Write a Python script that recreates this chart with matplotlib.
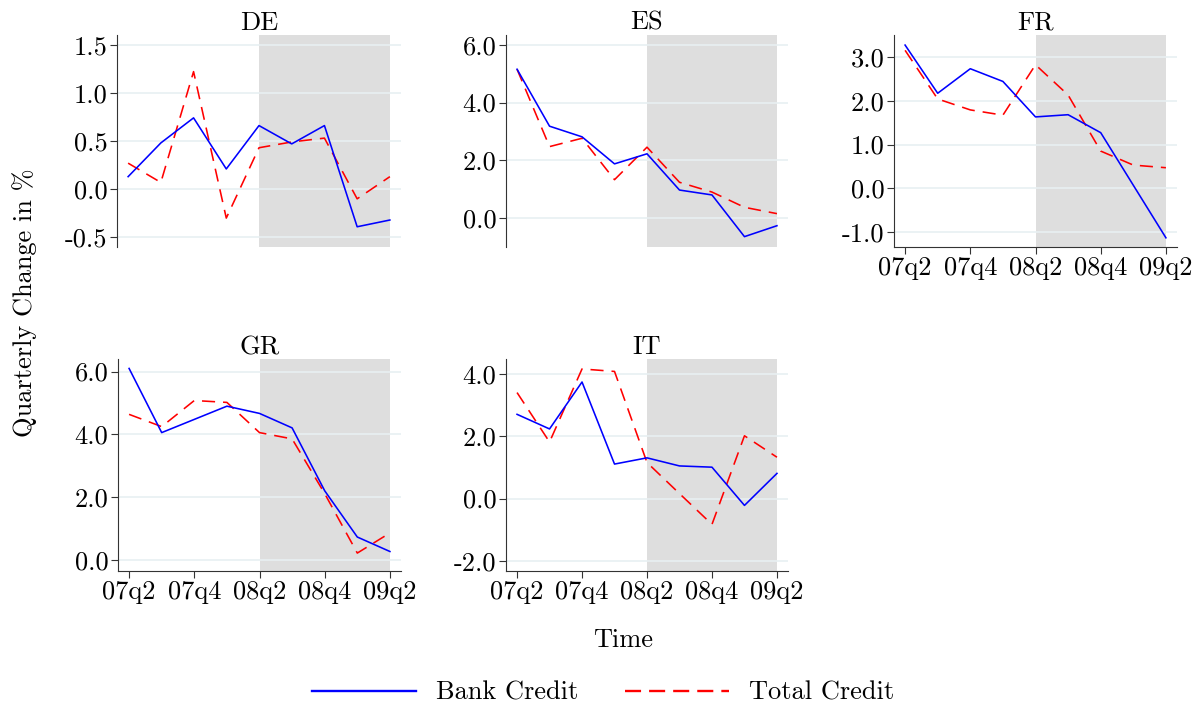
import matplotlib
matplotlib.use("Agg")
import matplotlib.pyplot as plt
from matplotlib.lines import Line2D

plt.rcParams['font.family'] = ['cmr10', 'DejaVu Serif']
plt.rcParams['axes.unicode_minus'] = False

quarters = ["07q2", "07q3", "07q4", "08q1", "08q2", "08q3", "08q4", "09q1", "09q2"]
countries = ["DE", "ES", "FR", "GR", "IT"]

bank_de = [0.13, 0.48, 0.74, 0.21, 0.66, 0.47, 0.66, -0.39, -0.32]
total_de = [0.27, 0.07, 1.22, -0.30, 0.43, 0.49, 0.53, -0.10, 0.13]
bank_es = [5.16, 3.18, 2.81, 1.87, 2.22, 0.96, 0.79, -0.66, -0.28]
total_es = [5.16, 2.47, 2.76, 1.32, 2.45, 1.23, 0.89, 0.36, 0.14]
bank_fr = [3.27, 2.17, 2.73, 2.44, 1.63, 1.68, 1.27, 0.07, -1.13]
total_fr = [3.15, 2.04, 1.79, 1.67, 2.82, 2.13, 0.85, 0.53, 0.47]
bank_gr = [6.10, 4.06, 4.48, 4.90, 4.67, 4.21, 2.21, 0.74, 0.28]
total_gr = [4.64, 4.25, 5.08, 5.02, 4.06, 3.86, 2.12, 0.23, 0.87]
bank_it = [2.71, 2.24, 3.75, 1.11, 1.31, 1.05, 1.01, -0.22, 0.81]
total_it = [3.41, 1.82, 4.17, 4.09, 1.16, 0.16, -0.83, 2.02, 1.33]

bank = {"DE": bank_de, "ES": bank_es, "FR": bank_fr, "GR": bank_gr, "IT": bank_it}
total = {"DE": total_de, "ES": total_es, "FR": total_fr, "GR": total_gr, "IT": total_it}
yticks = {"DE": [-0.5, 0.0, 0.5, 1.0, 1.5], "ES": [0.0, 2.0, 4.0, 6.0],
          "FR": [-1.0, 0.0, 1.0, 2.0, 3.0], "GR": [0.0, 2.0, 4.0, 6.0],
          "IT": [-2.0, 0.0, 2.0, 4.0]}
ylims = {"DE": (-0.60, 1.60), "ES": (-1.02, 6.35), "FR": (-1.34, 3.50),
         "GR": (-0.34, 6.40), "IT": (-2.33, 4.49)}
xtick_idx = [0, 2, 4, 6, 8]
shade_start, shade_end = 4, 8

W, H = 1200, 707
# axes boxes in pixels: left, top, right, bottom
boxes = {"DE": (117, 35, 401, 247), "ES": (506, 35, 788, 247), "FR": (894, 35, 1177, 247),
         "GR": (118, 359, 401, 571), "IT": (506, 359, 788, 571)}
show_x = {"DE": False, "ES": False, "FR": True, "GR": True, "IT": True}

fig = plt.figure(figsize=(W / 100, H / 100), dpi=100)
fs = 19
x = list(range(len(quarters)))
for c in countries:
    l, t, r, b = boxes[c]
    ax = fig.add_axes([l / W, 1 - b / H, (r - l) / W, (b - t) / H])
    ax.axvspan(shade_start, shade_end, color="#dedede", lw=0, zorder=0)
    for yt in yticks[c]:
        ax.axhline(yt, color="#e8f0f2", lw=1.2, zorder=0.5)
    ax.plot(x, bank[c], color="#0000ff", lw=1.15, zorder=3)
    ax.plot(x, total[c], color="#ff0000", lw=1.15, linestyle=(0, (8.2, 5.0)), zorder=2)
    ax.set_xlim(-0.34, 8.34)
    ax.set_ylim(*ylims[c])
    ax.set_yticks(yticks[c])
    ax.set_yticklabels(["%.1f" % v for v in yticks[c]], fontsize=fs)
    for s in ["top", "right"]:
        ax.spines[s].set_visible(False)
    ax.spines["left"].set_color("#333333")
    ax.spines["bottom"].set_color("#333333")
    ax.tick_params(axis="both", direction="out", length=5, width=0.8, color="#333333", pad=2)
    if show_x[c]:
        ax.set_xticks(xtick_idx)
        ax.set_xticklabels([quarters[i] for i in xtick_idx], fontsize=fs)
    else:
        ax.spines["bottom"].set_visible(False)
        ax.set_xticks([])
    ax.set_title(c, fontsize=fs, pad=2)

fig.text(25 / W, 1 - 303 / H, "Quarterly Change in %", rotation=90, ha="center", va="center", fontsize=fs)
fig.text(623 / W, 1 - 640 / H, "Time", ha="center", va="center", fontsize=fs)
h_bank = Line2D([], [], color="#0000ff", lw=1.7)
h_total = Line2D([], [], color="#ff0000", lw=1.7, linestyle=(0, (6.8, 3.4)))
fig.legend([h_bank, h_total], ["Bank Credit", "Total Credit"], loc="center",
           bbox_to_anchor=(0.5 + 3 / W, 1 - 693 / H),
           ncol=2, frameon=False, fontsize=fs, handlelength=3.95, handletextpad=0.76, columnspacing=1.75)

fig.savefig("out.png", dpi=100)
